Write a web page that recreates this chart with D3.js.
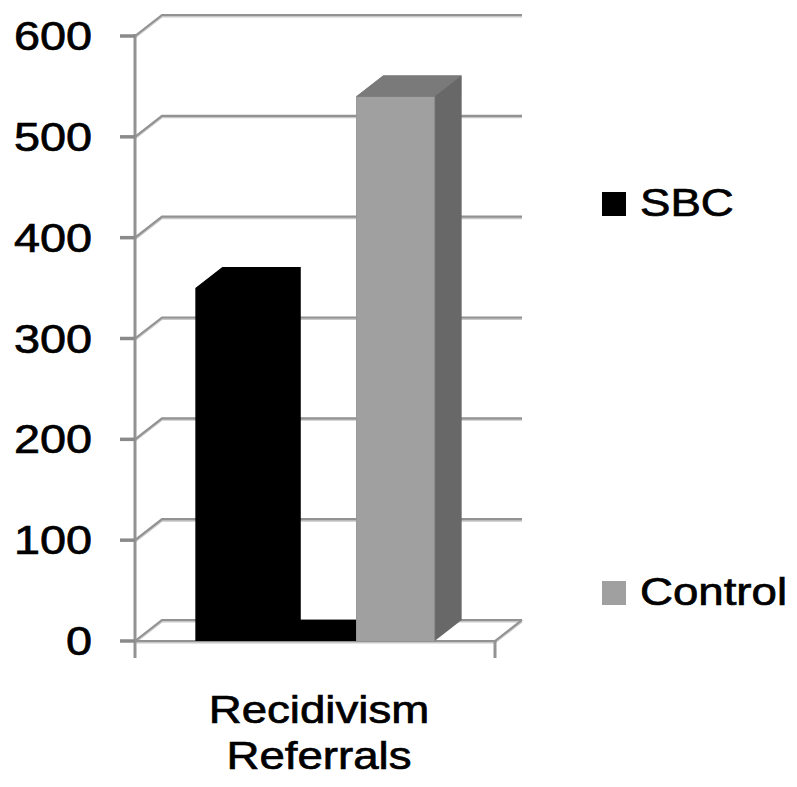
<!DOCTYPE html>
<html>
<head>
<meta charset="utf-8">
<script src="https://cdn.jsdelivr.net/npm/d3@7"></script>
<style>
  html, body { margin: 0; padding: 0; background: #fff; }
  svg { display: block; }
  text { font-family: "Liberation Sans", Arial, sans-serif; fill: #000; stroke: #000; stroke-width: 0.7px; }
</style>
</head>
<body>
<svg id="chart" width="797" height="787"></svg>
<script>
// Data
const categories = ["Recidivism", "Referrals"];   // two-line category label
const seriesNames = ["SBC", "Control"];
const seriesValues = [350, 540];
const tickValues = [0, 100, 200, 300, 400, 500, 600];

// Colours per series: front, top, side
const seriesFront = ["#000000", "#a0a0a0"];
const seriesTop = ["#000000", "#7a7a7a"];
const seriesSide = ["#000000", "#686868"];

const svg = d3.select("#chart");

// Plot frame (front plane) and depth offset of the 3D box
const x0 = 135, x1 = 495;
const depthX = 27, depthY = -21;

const y = d3.scaleLinear().domain([0, 600]).range([641, 36]);
const x = d3.scaleBand().domain(seriesNames).range([x0, x1])
  .paddingInner(0.5125).paddingOuter(0.375);

const textScaleX = 1.17;
function stretchedText(g, tx, ty, str, size, anchor) {
  const t = g.append("g").attr("transform", `translate(${tx},${ty}) scale(${textScaleX},1)`);
  return t.append("text").attr("x", 0).attr("y", 0)
    .attr("text-anchor", anchor).style("font-size", size + "px").text(str);
}

// Gridlines: diagonal on the side wall, horizontal on the back wall
const grid = svg.append("g");
function shadedLine(g, pts) {
  const line = d3.line();
  g.append("path").attr("d", line(pts.map(p => [p[0], p[1] + 1.5])))
    .attr("fill", "none").attr("stroke", "#c8c8c8").attr("stroke-width", 2);
  g.append("path").attr("d", line(pts))
    .attr("fill", "none").attr("stroke", "#929292").attr("stroke-width", 2.2);
}
tickValues.forEach(v => {
  const yy = y(v);
  shadedLine(grid, [[x0, yy], [x0 + depthX, yy + depthY], [x1 + depthX, yy + depthY]]);
});

// Floor outline
shadedLine(grid, [[x0, y(0)], [x1, y(0)], [x1 + depthX, y(0) + depthY]]);

// Vertical axis with tick marks
const axis = svg.append("g");
axis.append("line").attr("x1", x0).attr("x2", x0).attr("y1", y(600) - 2).attr("y2", y(0) + 17)
  .attr("stroke", "#939393").attr("stroke-width", 3);
axis.append("line").attr("x1", x1).attr("x2", x1).attr("y1", y(0)).attr("y2", y(0) + 17)
  .attr("stroke", "#939393").attr("stroke-width", 3);
tickValues.forEach(v => {
  axis.append("line").attr("x1", x0 - 15).attr("x2", x0).attr("y1", y(v)).attr("y2", y(v))
    .attr("stroke", "#8a8a8a").attr("stroke-width", 3.5);
  stretchedText(axis, 92, y(v) + 14, String(v), 40, "end");
});

// 3D columns
const bars = svg.append("g");
const pts = a => a.map(p => p.join(",")).join(" ");
seriesNames.forEach((name, i) => {
  const bx = x(name), bw = x.bandwidth();
  const yt = y(seriesValues[i]), yb = y(0);
  const face = p => bars.append("polygon").attr("points", pts(p));
  // silhouette of the whole column, so faces meet without seams
  const outline = [[bx, yt], [bx + depthX, yt + depthY], [bx + bw + depthX, yt + depthY],
                   [bx + bw + depthX, yb + depthY], [bx + bw, yb], [bx, yb]];
  if (i === 0) {
    // SBC column also darkens the floor up to the Control column
    const cx = x("Control");
    outline.splice(4, 0, [cx, yb + depthY], [cx, yb]);
  }
  face(outline).attr("fill", seriesSide[i]);
  if (seriesFront[i] !== seriesSide[i]) {
    face([[bx, yt], [bx + bw, yt], [bx + bw, yb], [bx, yb]]).attr("fill", seriesFront[i]);
    face([[bx, yt], [bx + depthX, yt + depthY], [bx + bw + depthX, yt + depthY], [bx + bw, yt]])
      .attr("fill", seriesTop[i]);
    bars.append("line").attr("x1", bx + bw).attr("x2", bx + bw).attr("y1", yt).attr("y2", yb)
      .attr("stroke", "#8c8c8c").attr("stroke-width", 1);
  }
});

// Category label
const cat = svg.append("g");
const cxMid = (x0 + x1) / 2 + 4;
stretchedText(cat, cxMid, 723, categories[0], 39, "middle");
stretchedText(cat, cxMid, 769, categories[1], 39, "middle");

// Legend
const legend = svg.append("g");
const legendY = [216, 605];
seriesNames.forEach((name, i) => {
  legend.append("rect").attr("x", 602).attr("y", legendY[i] - 24).attr("width", 24).attr("height", 24)
    .attr("fill", seriesFront[i]);
  stretchedText(legend, 640, legendY[i], name, 39, "start");
});
</script>
</body>
</html>
